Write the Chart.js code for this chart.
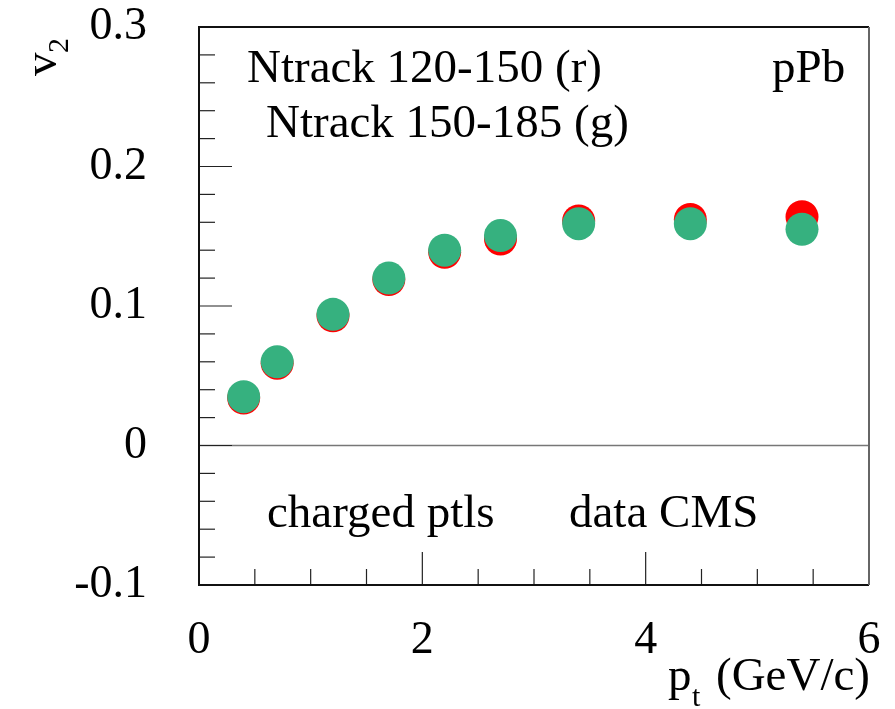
<!DOCTYPE html>
<html lang="en">
<head>
  <meta charset="UTF-8">
  <title>v2 vs pt</title>
  <script src="https://cdn.jsdelivr.net/npm/chart.js"></script>
  <style>
    html, body { margin: 0; padding: 0; background: #fff; }
    #wrap { width: 895px; height: 709px; }
  </style>
</head>
<body>
  <div id="wrap"><canvas id="v2Chart" width="895" height="709"></canvas></div>

  <script>
    // pt bins (GeV/c)
    const ptValues = [0.4, 0.7, 1.2, 1.7, 2.2, 2.7, 3.4, 4.4, 5.4];
    // Ntrack 120-150 (red)
    const v2Low = [0.034, 0.059, 0.093, 0.119, 0.1385, 0.148, 0.161, 0.162, 0.164];
    // Ntrack 150-185 (green)
    const v2High = [0.035, 0.060, 0.094, 0.120, 0.140, 0.1505, 0.159, 0.159, 0.155];

    const xTicks = [0, 2, 4, 6];
    const yTicks = [-0.1, 0, 0.1, 0.2, 0.3];

    const serif = '"Liberation Serif", "DejaVu Serif", serif';

    function toPoints(xs, ys) {
      return xs.map((x, i) => ({ x: x, y: ys[i] }));
    }

    function noPad(s) {
      s.paddingTop = 0;
      s.paddingBottom = 0;
      s.paddingLeft = 0;
      s.paddingRight = 0;
    }

    // frame, inward ticks, zero line and the text labels
    const decor = {
      id: 'decor',
      beforeDatasetsDraw(chart) {
        const ctx = chart.ctx;
        const a = chart.chartArea;
        const xs = chart.scales.x;
        const ys = chart.scales.y;
        ctx.save();

        // zero line
        ctx.strokeStyle = '#777';
        ctx.lineWidth = 1.5;
        ctx.beginPath();
        ctx.moveTo(a.left, ys.getPixelForValue(0));
        ctx.lineTo(a.right, ys.getPixelForValue(0));
        ctx.stroke();

        // x ticks every 0.5, long ones at the labels
        ctx.strokeStyle = '#222';
        ctx.lineWidth = 1.2;
        for (let i = 1; i < 12; i++) {
          const v = i * 0.5;
          const px = xs.getPixelForValue(v);
          const len = (i % 4 === 0) ? 33 : 16;
          ctx.beginPath();
          ctx.moveTo(px, a.bottom);
          ctx.lineTo(px, a.bottom - len);
          ctx.stroke();
        }
        // y ticks every 0.02, long ones every 0.1
        for (let i = 1; i < 20; i++) {
          const v = -0.1 + i * 0.02;
          const py = ys.getPixelForValue(v);
          const len = (i % 5 === 0) ? 33 : 16;
          ctx.beginPath();
          ctx.moveTo(a.left, py);
          ctx.lineTo(a.left + len, py);
          ctx.stroke();
        }

        // frame
        ctx.strokeStyle = '#111';
        ctx.lineWidth = 2;
        ctx.beginPath();
        ctx.moveTo(a.right, a.top);
        ctx.lineTo(a.left, a.top);
        ctx.lineTo(a.left, a.bottom);
        ctx.lineTo(a.right, a.bottom);
        ctx.stroke();
        ctx.strokeStyle = '#666';
        ctx.beginPath();
        ctx.moveTo(a.right, a.top);
        ctx.lineTo(a.right, a.bottom);
        ctx.stroke();

        // texts inside the frame
        ctx.fillStyle = '#000';
        ctx.textAlign = 'left';
        ctx.textBaseline = 'alphabetic';
        ctx.font = '47px ' + serif;
        ctx.fillText('Ntrack 120-150 (r)', 247, 82);
        ctx.fillText('Ntrack 150-185 (g)', 266, 137);
        ctx.fillText('pPb', 772, 82);
        ctx.fillText('charged ptls', 267, 527);
        ctx.fillText('data CMS', 569, 527);

        // x axis title: p_t (GeV/c)
        ctx.font = '47px ' + serif;
        ctx.fillText('p', 668, 690);
        ctx.font = '30px ' + serif;
        ctx.fillText('t', 692, 706);
        ctx.font = '47px ' + serif;
        ctx.fillText('(GeV/c)', 716, 690);

        // y axis title: v_2, rotated
        ctx.translate(56, 76);
        ctx.rotate(-Math.PI / 2);
        ctx.font = '47px ' + serif;
        ctx.fillText('v', 0, 0);
        ctx.font = '30px ' + serif;
        ctx.fillText('2', 23, 12);

        ctx.restore();
      }
    };

    const ctx = document.getElementById('v2Chart').getContext('2d');
    new Chart(ctx, {
      type: 'scatter',
      data: {
        datasets: [
          {
            label: 'Ntrack 120-150',
            data: toPoints(ptValues, v2Low),
            backgroundColor: '#ff0000',
            borderWidth: 0,
            pointRadius: 16.5,
            order: 2
          },
          {
            label: 'Ntrack 150-185',
            data: toPoints(ptValues, v2High),
            backgroundColor: '#36b17f',
            borderWidth: 0,
            pointRadius: 16.5,
            order: 1
          }
        ]
      },
      options: {
        responsive: false,
        animation: false,
        layout: { padding: { left: 0, top: 27, right: 26, bottom: 0 } },
        plugins: {
          legend: { display: false },
          tooltip: { enabled: false }
        },
        scales: {
          x: {
            type: 'linear',
            min: 0,
            max: 6,
            afterBuildTicks: (s) => { s.ticks = xTicks.map(v => ({ value: v })); },
            afterFit: (s) => { s.height = 124; noPad(s); },
            grid: { display: false },
            border: { display: false },
            ticks: {
              color: '#000',
              padding: 20,
              maxRotation: 0,
              font: { family: serif, size: 46 },
              callback: (v) => String(v)
            }
          },
          y: {
            type: 'linear',
            min: -0.1,
            max: 0.3,
            afterBuildTicks: (s) => { s.ticks = yTicks.map(v => ({ value: v })); },
            afterFit: (s) => { s.width = 199; noPad(s); },
            grid: { display: false },
            border: { display: false },
            ticks: {
              color: '#000',
              padding: 44,
              font: { family: serif, size: 46 },
              callback: (v) => String(+Number(v).toFixed(1))
            }
          }
        }
      },
      plugins: [decor]
    });
  </script>
</body>
</html>
